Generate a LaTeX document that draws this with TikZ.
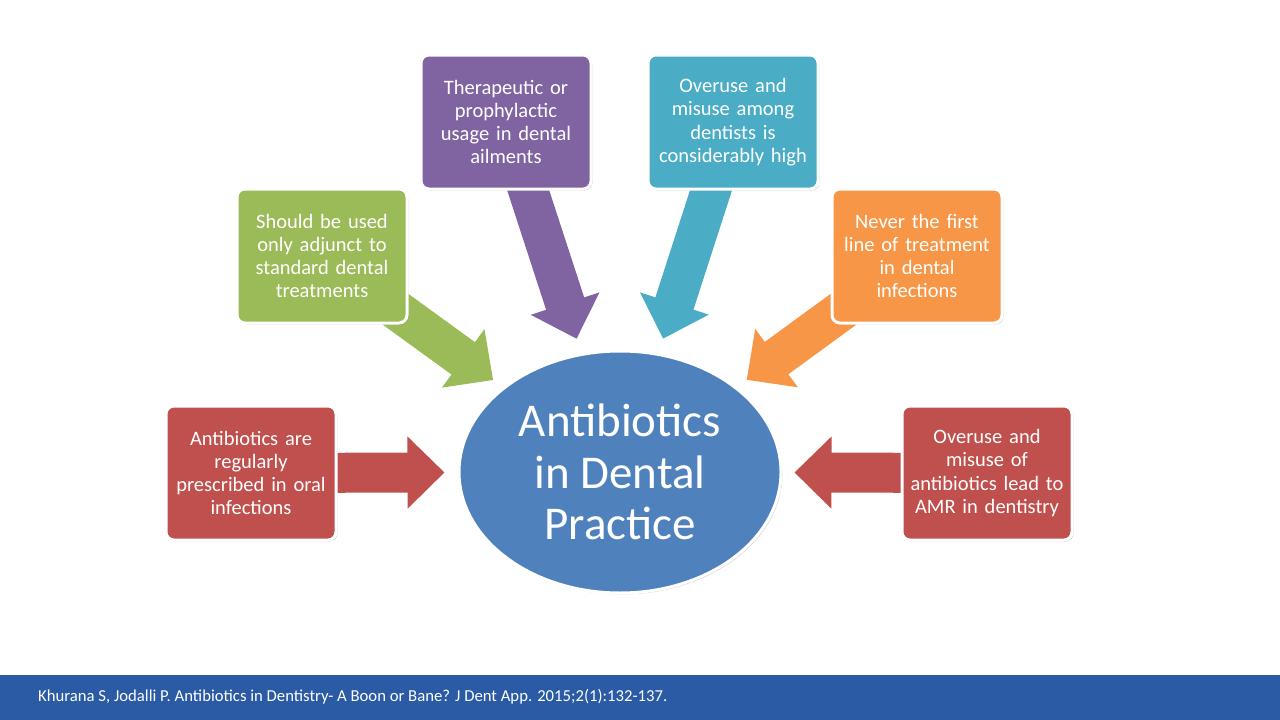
\documentclass[tikz,border=0pt]{standalone}
\usepackage{fontspec}
\setmainfont{Carlito}
\usetikzlibrary{shapes.geometric,shadows,arrows.meta,backgrounds}
\definecolor{cred}{HTML}{C0504D}
\definecolor{cgreen}{HTML}{9BBB59}
\definecolor{cpurple}{HTML}{8064A2}
\definecolor{cteal}{HTML}{4BACC6}
\definecolor{corange}{HTML}{F79646}
\definecolor{cblue}{HTML}{4F81BD}
\definecolor{cfoot}{HTML}{2A5BA4}
\begin{document}
\begin{tikzpicture}[x=1pt,y=-1pt,
  box/.style={rectangle, rounded corners=8pt, draw=white, line width=3pt,
    minimum width=170pt, minimum height=134pt, text width=164pt, align=center,
    text=white, font=\fontsize{20.5}{23.3}\selectfont, inner sep=0pt,
    drop shadow={shadow xshift=1.5pt, shadow yshift=-1.5pt, opacity=0.3, fill=black!60}},
  hub/.style={ellipse, draw=white, line width=3pt, fill=cblue,
    minimum width=322pt, minimum height=242pt, align=center, text=white,
    font=\fontsize{47}{51.5}\selectfont, inner sep=0pt,
    drop shadow={shadow xshift=1.5pt, shadow yshift=-1.5pt, opacity=0.3, fill=black!60}},
  arr/.style={line width=40pt, -{Triangle[length=37pt,width=70pt]}, shorten <=-25pt}
]
\useasboundingbox (0,0) rectangle (1280,720);

\node[hub] (ell) at (620,472) {Antibiotics\\in Dental\\Practice};

\node[box, fill=cred] (lbox) at (251,473) {Antibiotics are\\regularly\\prescribed in oral\\infections};
\node[box, fill=cgreen] (gbox) at (322,256) {Should be used\\only adjunct to\\standard dental\\treatments};
\node[box, fill=cpurple] (pbox) at (506,122) {Therapeutic or\\prophylactic\\usage in dental\\ailments};
\node[box, fill=cteal] (tbox) at (733,122) {Overuse and\\misuse among\\dentists is\\considerably high};
\node[box, fill=corange] (obox) at (917,256) {Never the first\\line of treatment\\in dental\\infections};
\node[box, fill=cred] (rbox) at (987,473) {Overuse and\\misuse of\\antibiotics lead to\\AMR in dentistry};

\begin{scope}[on background layer]
\fill[white] (0,0) rectangle (1280,720);
\draw[arr, cred, shorten >=13pt] (lbox) -- (ell);
\draw[arr, cgreen, shorten >=12pt] (gbox) -- (ell);
\draw[arr, cpurple, shorten >=15pt] (pbox) -- (ell);
\draw[arr, cteal, shorten >=15pt] (tbox) -- (ell);
\draw[arr, corange, shorten >=12pt] (obox) -- (ell);
\draw[arr, cred, shorten >=12pt] (rbox) -- (ell);
\end{scope}

\fill[cfoot] (0,675) rectangle (1280,720);
\node[anchor=west, text=white, font=\fontsize{16.7}{19}\selectfont, inner sep=0pt] (foot) at (38,697)
  {Khurana S, Jodalli P. Antibiotics in Dentistry- A Boon or Bane? J Dent App. 2015;2(1):132-137.};
\end{tikzpicture}
\end{document}
